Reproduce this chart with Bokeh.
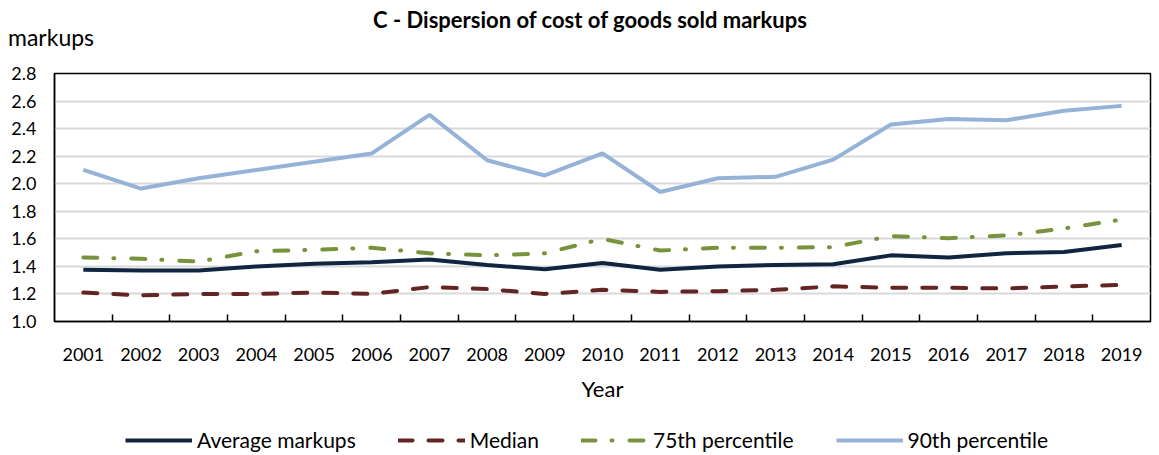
from bokeh.plotting import figure
from bokeh.layouts import column
from bokeh.models import (FixedTicker, Legend, LegendItem, Div, ColumnDataSource,
                          NumeralTickFormatter)
from bokeh.embed import file_html
from bokeh.resources import INLINE

years = ["2001", "2002", "2003", "2004", "2005", "2006", "2007", "2008", "2009", "2010",
         "2011", "2012", "2013", "2014", "2015", "2016", "2017", "2018", "2019"]
average = [1.375, 1.37, 1.37, 1.40, 1.42, 1.43, 1.45, 1.41, 1.38, 1.425,
           1.375, 1.40, 1.41, 1.415, 1.48, 1.465, 1.495, 1.505, 1.555]
median = [1.21, 1.19, 1.20, 1.20, 1.21, 1.20, 1.25, 1.235, 1.20, 1.23,
          1.215, 1.22, 1.23, 1.255, 1.245, 1.245, 1.24, 1.255, 1.265]
p75 = [1.465, 1.455, 1.435, 1.51, 1.52, 1.535, 1.495, 1.48, 1.495, 1.60,
       1.515, 1.535, 1.535, 1.54, 1.62, 1.605, 1.625, 1.675, 1.74]
p90 = [2.10, 1.965, 2.04, 2.10, 2.16, 2.22, 2.50, 2.17, 2.06, 2.22,
       1.94, 2.04, 2.05, 2.175, 2.43, 2.47, 2.46, 2.53, 2.565]
y_ticks = [1.0, 1.2, 1.4, 1.6, 1.8, 2.0, 2.2, 2.4, 2.6, 2.8]
series_labels = ["Average markups", "Median", "75th percentile", "90th percentile"]
title_text = "C - Dispersion of cost of goods sold markups"
y_title = "markups"
x_title = "Year"

FONT = "Lato"
STYLES = [
    dict(line_color="#10253f", line_width=4),
    dict(line_color="#632523", line_width=4, line_dash="14 16", line_cap="round"),
    dict(line_color="#77933c", line_width=4, line_dash="14 16 1 17", line_cap="round"),
    dict(line_color="#95b3d7", line_width=4),
]

n = len(years)
xs = [i + 0.5 for i in range(n)]
src = ColumnDataSource(dict(x=xs, avg=average, med=median, p75=p75, p90=p90))

# header with the title and the y-axis caption
HEAD = 60
header_html = (
    f'<div style="position:relative;width:1159px;height:{HEAD}px;font-family:Lato;color:black;">'
    f'<span style="position:absolute;left:190px;width:800px;top:7px;text-align:center;'
    f'font-size:22px;line-height:26px;font-weight:bold;white-space:nowrap;">{title_text}</span>'
    f'<span style="position:absolute;left:8px;top:23px;font-size:23px;line-height:28px;'
    f'white-space:nowrap;">{y_title}</span>'
    f'</div>'
)
header = Div(text=header_html, width=1159, height=HEAD, margin=(0, 0, 0, 0))

# main chart
p = figure(width=1159, height=361, output_backend="svg", toolbar_location=None,
           x_range=(0, n), y_range=(1.0, 2.8),
           min_border_left=54, min_border_right=9, min_border_top=13, min_border_bottom=100)
p.background_fill_color = "white"
p.border_fill_color = "white"
p.outline_line_color = "black"
p.outline_line_width = 1.5

p.line("x", "p90", source=src, **STYLES[3])
p.line("x", "p75", source=src, **STYLES[2])
p.line("x", "med", source=src, **STYLES[1])
p.line("x", "avg", source=src, **STYLES[0])

xa = p.xaxis[0]
xa.ticker = FixedTicker(ticks=xs, minor_ticks=list(range(1, n)))
xa.major_label_overrides = {x: y for x, y in zip(xs, years)}
xa.major_tick_line_color = None
xa.minor_tick_line_color = "black"
xa.minor_tick_in = 7
xa.minor_tick_out = 0
xa.minor_tick_line_width = 1.5
xa.axis_line_color = "black"
xa.axis_line_width = 1.5
xa.major_label_text_font = FONT
xa.major_label_text_font_size = "18px"
xa.major_label_text_color = "black"
xa.major_label_standoff = 20
xa.axis_label = x_title
xa.axis_label_text_font = FONT
xa.axis_label_text_font_size = "22px"
xa.axis_label_text_font_style = "normal"
xa.axis_label_text_color = "black"
xa.axis_label_standoff = 11

ya = p.yaxis[0]
ya.ticker = FixedTicker(ticks=y_ticks)
ya.formatter = NumeralTickFormatter(format="0.0")
ya.major_tick_line_color = None
ya.minor_tick_line_color = None
ya.axis_line_color = "black"
ya.axis_line_width = 1.5
ya.major_label_text_font = FONT
ya.major_label_text_font_size = "18px"
ya.major_label_text_color = "black"
ya.major_label_standoff = 12

p.xgrid.grid_line_color = None
p.ygrid.grid_line_color = "#d9d9d9"
p.ygrid.grid_line_width = 2

# footer with the legend (keys drawn by proxy lines without visible points)
FOOT = 34
footer = figure(width=1159, height=FOOT, output_backend="svg", toolbar_location=None,
                x_axis_type=None, y_axis_type=None, x_range=(0, 1), y_range=(0, 1),
                min_border=0)
footer.outline_line_color = None
footer.background_fill_color = "white"
footer.border_fill_color = "white"
items = []
for lab, st in zip(series_labels, STYLES):
    r = footer.line(x=[float("nan")], y=[float("nan")], **st)
    items.append(LegendItem(label=lab, renderers=[r]))
legend = Legend(items=items, orientation="horizontal", location=(71, 3))
legend.border_line_color = None
legend.background_fill_alpha = 0
legend.label_text_font = FONT
legend.label_text_font_size = "21px"
legend.label_text_color = "black"
legend.glyph_width = 67
legend.glyph_height = 20
legend.spacing = 42
legend.label_standoff = 5
legend.margin = 0
legend.padding = 0
footer.add_layout(legend)

layout = column(header, p, footer, spacing=0)
open("out.html", "w").write(file_html(layout, INLINE))
